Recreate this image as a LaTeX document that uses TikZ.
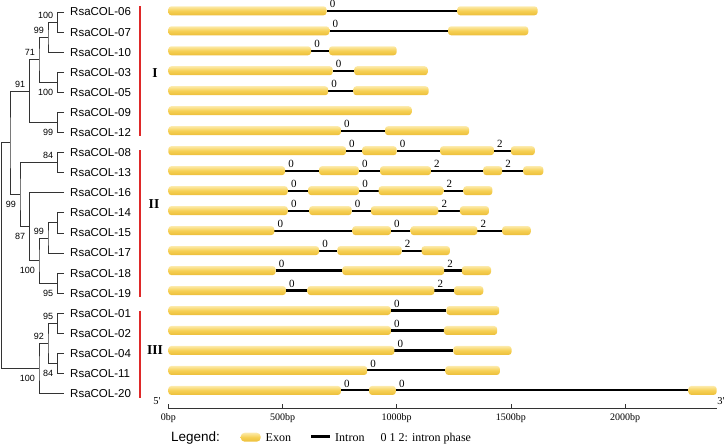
\documentclass[tikz,border=0pt]{standalone}
\usepackage{fontspec}
\setmainfont{Liberation Serif}
\setsansfont{Liberation Sans}
\usepackage{tikz}
\usetikzlibrary{positioning}
\definecolor{exontop}{RGB}{252,234,170}
\definecolor{exonmid}{RGB}{246,208,84}
\definecolor{exonbot}{RGB}{236,190,58}
\definecolor{groupred}{RGB}{222,40,40}

% one gene row: y, exons a/b, introns a/b/phase
\newcommand{\genemodel}[3]{%
  \foreach \a/\b/\p in {#3}{%
    \draw[intron] (\a,#1) -- (\b,#1);
    \node[phase] at (\a,#1) {\p};
  }
  \foreach \a/\b in {#2}{%
    \path[exon] ([yshift=4.5pt]\a,#1) rectangle ([yshift=-4.5pt]\b,#1);
  }
}

\begin{document}
\begin{tikzpicture}[x=1pt, y=-1pt,
    branch/.style={draw=black!80, line width=0.75pt},
    leaf/.style={font=\sffamily\fontsize{11.5}{13}\selectfont, anchor=west, inner sep=0pt, xshift=6pt},
    bsup/.style={font=\sffamily\fontsize{9}{10}\selectfont, anchor=south east, inner sep=0pt, xshift=-4pt, yshift=3.5pt},
    bsdn/.style={font=\sffamily\fontsize{9}{10}\selectfont, anchor=north east, inner sep=0pt, xshift=-4pt, yshift=-6.5pt},
    grp/.style={font=\bfseries\fontsize{13.6}{15}\selectfont, inner sep=0pt},
    exon/.style={rounded corners=3pt, top color=exontop, bottom color=exonbot, middle color=exonmid},
    intron/.style={line width=2.1pt, black},
    phase/.style={font=\fontsize{11}{12}\selectfont, inner sep=0pt, xshift=6pt, yshift=6.5pt},
    tick/.style={font=\fontsize{10}{11}\selectfont, inner sep=0pt},
    legendtxt/.style={font=\fontsize{12}{13}\selectfont, anchor=base west, inner sep=0pt}
]
\useasboundingbox (0,0) rectangle (725,445);

% leaves
\foreach \n/\y in {06/12.00, 07/32.08, 10/52.16, 03/72.24, 05/92.32, 09/112.40, 12/132.48,
                  08/152.56, 13/172.64, 16/192.72, 14/212.80, 15/232.88, 17/252.96, 18/273.04, 19/293.12,
                  01/313.20, 02/333.28, 04/353.36, 11/373.44, 20/393.52}{
  \coordinate (t\n) at (64,\y);
  \node[leaf] (l\n) at (t\n) {RsaCOL-\n};
}

% internal nodes
\coordinate (nA) at (57.3,22.04);
\coordinate (nB) at (48,37.10);
\coordinate (nC) at (57.3,82.28);
\coordinate (nD) at (39,59.69);
\coordinate (nE) at (57.3,122.44);
\coordinate (nF) at (29.3,91.07);
\coordinate (nG) at (57.3,162.60);
\coordinate (nH) at (57.3,222.84);
\coordinate (nI) at (48,237.90);
\coordinate (nJ) at (57.3,283.08);
\coordinate (nK) at (39,260.49);
\coordinate (nL) at (29.3,226.61);
\coordinate (nM) at (20,194.61);
\coordinate (nN) at (10,142.84);
\coordinate (nO) at (57.3,323.24);
\coordinate (nP) at (57.3,363.40);
\coordinate (nQ) at (48,343.32);
\coordinate (nR) at (39,368.42);
\coordinate (root) at (1.5,255.63);

\draw[branch] (t06) -| (nA) |- (t07);
\draw[branch] (nA) -| (nB) |- (t10);
\draw[branch] (t03) -| (nC) |- (t05);
\draw[branch] (nB) -| (nD) |- (nC);
\draw[branch] (t09) -| (nE) |- (t12);
\draw[branch] (nD) -| (nF) |- (nE);
\draw[branch] (t08) -| (nG) |- (t13);
\draw[branch] (t14) -| (nH) |- (t15);
\draw[branch] (nH) -| (nI) |- (t17);
\draw[branch] (t18) -| (nJ) |- (t19);
\draw[branch] (nI) -| (nK) |- (nJ);
\draw[branch] (t16) -| (nL) |- (nK);
\draw[branch] (nG) -| (nM) |- (nL);
\draw[branch] (nF) -| (nN) |- (nM);
\draw[branch] (t01) -| (nO) |- (t02);
\draw[branch] (t04) -| (nP) |- (t11);
\draw[branch] (nO) -| (nQ) |- (nP);
\draw[branch] (nQ) -| (nR) |- (t20);
\draw[branch] (nN) -| (root) |- (nR);

% bootstrap values
\node[bsup] (bA) at (nA) {100};
\node[bsup] (bB) at (nB) {99};
\node[bsdn] (bC) at (nC) {100};
\node[bsup] (bD) at (nD) {71};
\node[bsdn] (bE) at (nE) {99};
\node[bsup] (bF) at (nF) {91};
\node[bsup] (bG) at (nG) {84};
\node[bsup] (bI) at (nI) {99};
\node[bsdn] (bJ) at (nJ) {95};
\node[bsdn] (bK) at (nK) {100};
\node[bsdn] (bL) at (nL) {87};
\node[bsdn] (bM) at (nM) {99};
\node[bsup] (bO) at (nO) {95};
\node[bsdn] (bP) at (nP) {84};
\node[bsup] (bQ) at (nQ) {92};
\node[bsdn] (bR) at (nR) {100};

% groups
\draw[groupred, line width=1.5pt] (140,6) -- (140,136);
\draw[groupred, line width=1.5pt] (140,150) -- (140,296.7);
\draw[groupred, line width=1.5pt] (140,310.7) -- (140,398.3);
\node[grp] (gI) at (155,72.8) {I};
\node[grp] (gII) at (154,204) {II};
\node[grp] (gIII) at (155,350) {III};

% gene structures, x in bp
\begin{scope}[xshift=168.3pt, x=0.2284pt]
\genemodel{10.80}{0/693, 1265/1617}{693/1265/0}
\genemodel{30.78}{0/705, 1225/1576}{705/1225/0}
\genemodel{50.76}{0/625, 704/1000}{625/704/0}
\genemodel{70.74}{0/720, 814/1136}{720/814/0}
\genemodel{90.72}{0/700, 810/1140}{700/810/0}
\path[exon] ([yshift=4.5pt]0,110.70) rectangle ([yshift=-4.5pt]1066,110.70);
\genemodel{130.68}{0/756, 949/1317}{756/949/0}
\genemodel{150.66}{0/778, 849/1000, 1190/1426, 1500/1605}{778/849/0, 1000/1190/0, 1426/1500/2}
\genemodel{170.64}{0/511, 660/834, 927/1150, 1379/1462, 1554/1642}{511/660/0, 834/927/0, 1150/1379/2, 1462/1554/2}
\genemodel{190.62}{0/523, 612/835, 921/1204, 1292/1419}{523/612/0, 835/921/0, 1204/1292/2}
\genemodel{210.60}{0/523, 617/803, 887/1182, 1277/1404}{523/617/0, 803/887/0, 1182/1277/2}
\genemodel{230.58}{0/464, 806/975, 1061/1353, 1462/1587}{464/806/0, 975/1061/0, 1353/1462/2}
\genemodel{250.56}{0/660, 740/1022, 1109/1233}{660/740/0, 1022/1109/2}
\genemodel{270.54}{0/470, 762/1208, 1285/1413}{470/762/0, 1208/1285/2}
\genemodel{290.52}{0/515, 609/1165, 1251/1379}{515/609/0, 1165/1251/2}
\genemodel{310.50}{0/974, 1218/1449}{974/1218/0}
\genemodel{330.48}{0/975, 1207/1440}{975/1207/0}
\genemodel{350.46}{0/990, 1248/1503}{990/1248/0}
\genemodel{370.44}{0/871, 1213/1452}{871/1213/0}
\genemodel{390.42}{0/756, 879/996, 2277/2401}{756/879/0, 996/2277/0}

% scale
\draw[black!80, line width=0.6pt] (0,408) -- (2401,408);
\foreach \t in {0,500,...,2000}{
  \draw[black!80, line width=0.6pt] (\t,408) -- (\t,404);
  \node[tick] (tk\t) at (\t,418.5) {\t bp};
}
\end{scope}
\node[font=\fontsize{10.5}{11}\selectfont, inner sep=0pt] (five) at (157,401) {5\textquotesingle};
\node[font=\fontsize{10.5}{11}\selectfont, inner sep=0pt] (three) at (721,401.5) {3\textquotesingle};

% legend
\node[legendtxt, font=\sffamily\fontsize{13.5}{15}\selectfont] (lg) at (171,441) {Legend:};
\path[exon, rounded corners=4pt] (240.7,432.7) rectangle (260.7,441.7);
\node[legendtxt] (lgexon) at (265.5,441) {Exon};
\draw[line width=2.5pt] (311,436.7) -- (330,436.7);
\node[legendtxt] (lgintron) at (335,441) {Intron};
\node[legendtxt] (lgphase) at (380.5,441) {0 1 2: intron phase};
\end{tikzpicture}
\end{document}
